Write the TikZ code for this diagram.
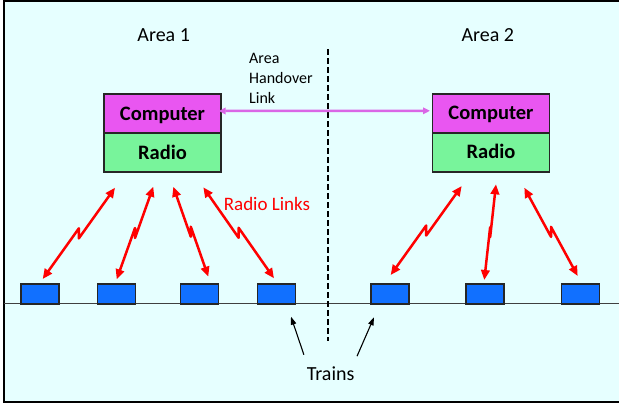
\documentclass[tikz,border=0pt]{standalone}
\usepackage{fontspec}
\setmainfont{Carlito}
\usetikzlibrary{arrows.meta,calc,positioning}
\definecolor{skybg}{RGB}{230,255,255}
\definecolor{compmag}{RGB}{233,86,241}
\definecolor{radiogrn}{RGB}{120,244,155}
\definecolor{trainblu}{RGB}{17,112,255}
\definecolor{hovio}{RGB}{218,102,230}
\newcommand{\bigtxt}{\fontsize{20pt}{24pt}\selectfont}
\newcommand{\boxtxt}{\fontsize{20.5pt}{24pt}\selectfont\bfseries}
\newcommand{\smalltxt}{\fontsize{16pt}{19.7pt}\selectfont}
\newcommand{\linktxt}{\fontsize{19pt}{23pt}\selectfont}

\begin{document}
\begin{tikzpicture}[x=1pt,y=-1pt,
  unitbox/.style={draw=black!85,line width=1.6pt,minimum width=117pt,minimum height=39pt,
    inner sep=0pt,outer sep=0pt,text height=13.2pt,text depth=0pt,font=\boxtxt},
  train/.style={draw=black!85,fill=trainblu,line width=1.2pt,minimum width=38pt,minimum height=20pt,inner sep=0pt},
  radiolink/.style={red,line width=2.5pt,line join=round,{Triangle[length=10pt,width=8.5pt]}-{Triangle[length=10pt,width=8.5pt]}},
  handover/.style={hovio,line width=2.5pt,{Triangle[length=7pt,width=6.5pt]}-{Triangle[length=7pt,width=6.5pt]}},
  pointer/.style={black,line width=1.1pt,-{Triangle[length=8pt,width=5.5pt]}}]
\useasboundingbox (0,0) rectangle (619,405);
%background and frame
\fill[skybg] (4,0.7) rectangle (619,402);
\draw[line width=1.6pt] (619,0.7) -- (4,0.7) -- (4,402) -- (619,402);
%track and area border
\draw[black!75,line width=1.1pt] (4,303.5) -- (619,303.5);
\draw[line width=2.3pt,dash pattern=on 6pt off 3pt] (328.3,49) -- (328.3,341);
%trains on the track
\foreach \n/\x in {1/40,2/116.5,3/199.7,4/276.5,5/390,6/485,7/580.3}
  \node[train] (train\n) at (\x,294) {};
%area labels
\node[font=\bigtxt,anchor=base] (area1) at (163.7,41.5) {Area 1};
\node[font=\bigtxt,anchor=base] (area2) at (487.8,41) {Area 2};
%computer and radio units
\node[unitbox,fill=compmag] (comp1) at (162.5,113.5) {Computer};
\node[unitbox,fill=radiogrn,below=0pt of comp1] (radio1) {Radio};
\node[unitbox,fill=compmag] (comp2) at (491,113.3) {Computer};
\node[unitbox,fill=radiogrn,below=0pt of comp2] (radio2) {Radio};
%handover link
\draw[handover,shorten <=-2.3pt,shorten >=2.5pt] ([yshift=2.5pt]comp1.east) -- ([yshift=2.5pt]comp2.west);
\node[font=\smalltxt,align=left,anchor=north west,inner sep=0pt] (holabel) at (249,53.5) {Area\\Handover\\Link};
%radio links with a zigzag in the middle
\foreach \n/\ax/\ay/\bx/\by in {1/115/187.7/42.7/279,2/153.3/186.7/116.7/279.3,3/173.3/186.7/208.3/276.7,
    4/203.3/187.3/274/278.3,5/461.7/186/390.7/275,6/496/184.3/484.3/280,7/524.3/187.7/577.7/276}
{
  \coordinate (up\n) at (\ax,\ay);
  \coordinate (dn\n) at (\bx,\by);
  \draw[radiolink] (up\n) -- ($(up\n)!.5!(dn\n)+(0,5)$) -- ($(up\n)!.5!(dn\n)+(0,-5)$) -- (dn\n);
}
\node[font=\linktxt,text=red,anchor=base] (rlinks) at (267,210.7) {Radio Links};
%trains label
\node[font=\bigtxt,anchor=base] (trains) at (330.7,380) {Trains};
\coordinate (aim4) at (291,316.7);
\coordinate (aim5) at (374,317.3);
\draw[pointer] ([xshift=0.5pt,yshift=8pt]trains.north west) -- (aim4);
\draw[pointer] ([xshift=-1pt,yshift=6.5pt]trains.north east) -- (aim5);
\end{tikzpicture}
\end{document}
